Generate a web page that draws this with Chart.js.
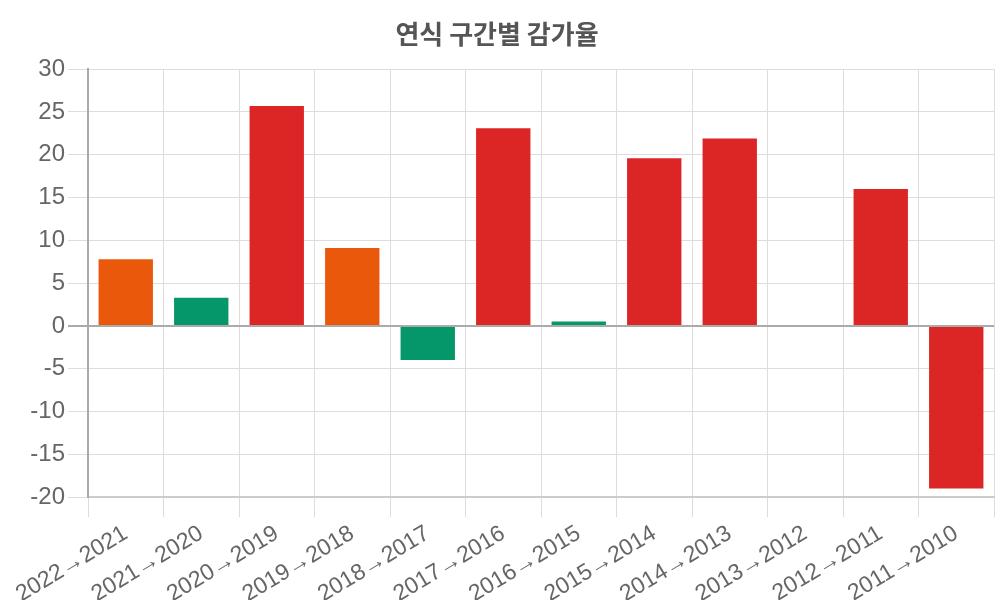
<!DOCTYPE html>
<html>
<head>
<meta charset="utf-8">
<script src="https://cdn.jsdelivr.net/npm/chart.js@4/dist/chart.umd.min.js"></script>
<style>
  html, body { margin: 0; padding: 0; background: #fff; }
  #wrap { width: 1000px; height: 600px; }
</style>
</head>
<body>
<div id="wrap"><canvas id="chart"></canvas></div>
<script>
const labels = [
	"2022→2021", "2021→2020", "2020→2019", "2019→2018", "2018→2017", "2017→2016",
	"2016→2015", "2015→2014", "2014→2013", "2013→2012", "2012→2011", "2011→2010",
];
const rates = [7.8, 3.3, 25.7, 9.1, -4.0, 23.1, 0.5, 19.6, 21.9, 0, 16.0, -19.0];
const barColors = [
	"#ea580c", "#059669", "#dc2626", "#ea580c", "#059669", "#dc2626",
	"#059669", "#dc2626", "#dc2626", "#dc2626", "#dc2626", "#dc2626",
];

Chart.defaults.font.family = "'Liberation Sans', Arial, 'Noto Sans CJK KR', sans-serif";
Chart.defaults.color = "#666";

const ctx = document.getElementById("chart").getContext("2d");
new Chart(ctx, {
	type: "bar",
	data: {
		labels: labels,
		datasets: [{
			label: "감가율",
			data: rates,
			backgroundColor: barColors,
			borderColor: barColors,
			borderWidth: 0,
		}],
	},
	options: {
		animation: false,
		responsive: true,
		maintainAspectRatio: false,
		layout: { padding: { left: 0, right: 6, top: 0, bottom: 0 } },
		plugins: {
			legend: { display: false },
			title: {
				display: true,
				text: "연식 구간별 감가율",
				color: "#555",
				font: { size: 26, weight: "bold", family: "'Noto Sans CJK KR', sans-serif" },
				padding: { top: 19, bottom: 19 },
			},
		},
		scales: {
			x: {
				grid: { color: "#ddd", tickLength: 20 },
				border: { color: "#ccc", width: 2 },
				ticks: {
					font: { size: 23 },
					minRotation: 31,
					maxRotation: 31,
				},
				afterFit: (scale) => { scale.height = 103; },
			},
			y: {
				min: -20,
				max: 30,
				grid: {
					tickLength: 20,
					color: (c) => (c.tick && c.tick.value === 0 ? "#aaa" : "#ddd"),
					lineWidth: (c) => (c.tick && c.tick.value === 0 ? 2 : 1),
				},
				border: { color: "#aaa", width: 2 },
				ticks: { stepSize: 5, font: { size: 24 } },
				afterFit: (scale) => { scale.width = 88; },
			},
		},
	},
});
</script>
</body>
</html>
